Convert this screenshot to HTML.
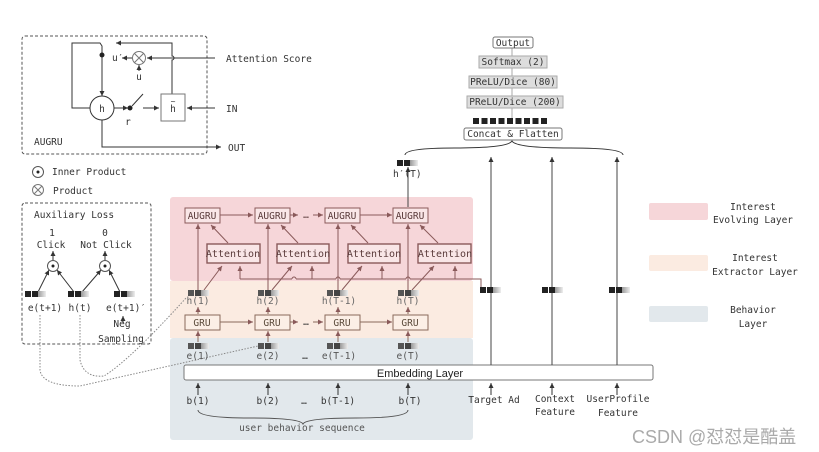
<!DOCTYPE html>
<html><head><meta charset="utf-8"><style>
html,body{margin:0;padding:0;background:#fff;}
svg{display:block;}
text{font-family:"DejaVu Sans Mono","Liberation Mono",monospace;font-size:9.5px;fill:#333;}
.c{text-anchor:middle;}
</style></head><body>
<svg width="819" height="452" viewBox="0 0 819 452" xmlns="http://www.w3.org/2000/svg">
<defs>
<marker id="a" markerWidth="6" markerHeight="6" refX="5" refY="3" orient="auto" markerUnits="userSpaceOnUse"><path d="M0,0.5 L5,3 L0,5.5z" fill="#333"/></marker>
<marker id="b" markerWidth="6" markerHeight="6" refX="5" refY="3" orient="auto" markerUnits="userSpaceOnUse"><path d="M0,0.5 L5,3 L0,5.5z" fill="#8a5a5a"/></marker>
<linearGradient id="g" x1="0" x2="1"><stop offset="0" stop-color="#999"/><stop offset="1" stop-color="#eee"/></linearGradient>
<g id="v"><rect x="0" y="0" width="6" height="6" fill="#222"/><rect x="7" y="0" width="6" height="6" fill="#222"/><rect x="13" y="0" width="8" height="6" fill="url(#g)"/></g>
<g id="vs"><rect x="0" y="0" width="6" height="6" fill="#555"/><rect x="7" y="0" width="6" height="6" fill="#444"/><rect x="13" y="0" width="8" height="6" fill="url(#g)"/></g>
</defs>

<rect x="170" y="197" width="303" height="84" rx="3" fill="#f6d6d9"/>
<rect x="170" y="281" width="303" height="57" fill="#fbebe1"/>
<rect x="170" y="338" width="303" height="102" rx="3" fill="#e2e8ec"/>

<rect x="649" y="203" width="59" height="17" rx="2" fill="#f6d6d9"/>
<rect x="649" y="255" width="59" height="16" rx="2" fill="#fbebe1"/>
<rect x="649" y="306" width="59" height="16" rx="2" fill="#e2e8ec"/>
<text x="753" y="210" class="c">Interest</text><text x="753" y="223" class="c">Evolving Layer</text>
<text x="755" y="261" class="c">Interest</text><text x="755" y="275" class="c">Extractor Layer</text>
<text x="753" y="313" class="c">Behavior</text><text x="753" y="327" class="c">Layer</text>

<rect x="22" y="36" width="185" height="118" rx="3" fill="none" stroke="#555" stroke-dasharray="3,2"/>
<g stroke="#333" fill="none" stroke-width="1">
<path d="M90,108 H72 V43 H100 L102,46 V96" marker-end="url(#a)"/>
<circle cx="102" cy="108" r="12" fill="#fff"/>
<path d="M135,58 H122" marker-end="url(#a)"/>
<circle cx="139" cy="58" r="6.5" fill="#fff" stroke="#777"/>
<path d="M134.5,53.5 L143.5,62.5 M143.5,53.5 L134.5,62.5" stroke="#777"/>
<path d="M139,71 V65" marker-end="url(#a)"/>
<path d="M215,58 H147" marker-end="url(#a)"/>
<path d="M172,94 V60 A2,2 0 0 0 172,56 V43 H116" marker-end="url(#a)"/>
<rect x="161" y="94" width="24" height="27" fill="#fff" stroke="#777"/>
<path d="M215,108 H187" marker-end="url(#a)"/>
<path d="M114,108 H128" marker-end="url(#a)"/>
<path d="M132,106 L143,94"/>
<path d="M143,108 H159" marker-end="url(#a)"/>
<path d="M102,120 V147 H221" marker-end="url(#a)"/>
</g>
<circle cx="102" cy="55" r="2.5" fill="#222"/>
<circle cx="130" cy="108" r="2.5" fill="#222"/>
<text x="102" y="112" class="c">h</text>
<text x="112" y="61">u′</text>
<text x="139" y="80" class="c">u</text>
<text x="173" y="112" class="c">h</text><text x="173" y="104" class="c" style="font-size:8px">~</text>
<text x="128" y="125" class="c">r</text>
<text x="226" y="62">Attention Score</text>
<text x="226" y="112">IN</text>
<text x="228" y="151">OUT</text>
<text x="34" y="145">AUGRU</text>

<circle cx="38" cy="172" r="5.5" fill="#fff" stroke="#555"/><circle cx="38" cy="172" r="1.5" fill="#222"/>
<text x="52" y="175">Inner Product</text>
<circle cx="38" cy="190" r="5.5" fill="#fff" stroke="#777"/>
<path d="M34,186 L42,194 M42,186 L34,194" stroke="#777"/>
<text x="53" y="194">Product</text>

<rect x="22" y="203" width="129" height="141" rx="3" fill="none" stroke="#555" stroke-dasharray="3,2"/>
<text x="34" y="218">Auxiliary Loss</text>
<text x="52" y="236" class="c">1</text><text x="51" y="248" class="c">Click</text>
<text x="105" y="236" class="c">0</text><text x="106" y="248" class="c">Not Click</text>
<g stroke="#333" fill="none">
<path d="M53,260 V251" marker-end="url(#a)"/>
<path d="M105,260 V251" marker-end="url(#a)"/>
<path d="M38,292 L49,270" marker-end="url(#a)"/>
<path d="M74,292 L57,270" marker-end="url(#a)"/>
<path d="M82,292 L101,270" marker-end="url(#a)"/>
<path d="M120,292 L109,270" marker-end="url(#a)"/>
<path d="M123,323 V316" marker-end="url(#a)"/>
</g>
<circle cx="53" cy="266" r="5.5" fill="#fff" stroke="#555"/><circle cx="53" cy="266" r="1.5" fill="#222"/>
<circle cx="105" cy="266" r="5.5" fill="#fff" stroke="#555"/><circle cx="105" cy="266" r="1.5" fill="#222"/>
<use href="#v" x="25" y="291"/><use href="#v" x="68" y="291"/><use href="#v" x="114" y="291"/>
<text x="45" y="311" class="c">e(t+1)</text><text x="80" y="311" class="c">h(t)</text><text x="126" y="311" class="c">e(t+1)′</text>
<text x="122" y="327" class="c">Neg</text><text x="121" y="342" class="c">Sampling</text>

<g stroke="#888" fill="none" stroke-dasharray="1.5,1.5">
<path d="M40,315 V370 Q42,386 80,386 L258,346"/>
<path d="M80,315 V360 Q84,378 104,376 Q130,360 186,298"/>
</g>

<g stroke="#8a5a5a" fill="none">
<path d="M240,279 H292 M296,279 H336 M340,279 H406 M410,279 H481 V289"/>
<path d="M292,279 A2,2 0 0 1 296,279 M336,279 A2,2 0 0 1 340,279 M406,279 A2,2 0 0 1 410,279"/>
<path d="M240,279 V266" marker-end="url(#b)"/>
<path d="M312,279 V266" marker-end="url(#b)"/>
<path d="M382,279 V266" marker-end="url(#b)"/>
<path d="M455,279 V266" marker-end="url(#b)"/>
<path d="M198,290 V224" marker-end="url(#b)"/>
<path d="M268,290 V224" marker-end="url(#b)"/>
<path d="M338,290 V224" marker-end="url(#b)"/>
<path d="M408,290 V224" marker-end="url(#b)"/>
<path d="M204,290 L222,266" marker-end="url(#b)"/>
<path d="M272,290 L292,266" marker-end="url(#b)"/>
<path d="M342,290 L362,266" marker-end="url(#b)"/>
<path d="M412,290 L434,266" marker-end="url(#b)"/>
<path d="M228,243 L211,225" marker-end="url(#b)"/>
<path d="M298,243 L281,225" marker-end="url(#b)"/>
<path d="M368,243 L351,225" marker-end="url(#b)"/>
<path d="M438,243 L420,225" marker-end="url(#b)"/>
<path d="M220,215 H253" marker-end="url(#b)"/>
<path d="M290,215 H298"  marker-end="url(#b)"/>
<path d="M313,215 H323" marker-end="url(#b)"/>
<path d="M360,215 H392" marker-end="url(#b)"/>
<g fill="#f9e6e7">
<rect x="185" y="208" width="35" height="15"/><rect x="255" y="208" width="35" height="15"/>
<rect x="325" y="208" width="35" height="15"/><rect x="393" y="208" width="35" height="15"/>
<rect x="207" y="244" width="53" height="19" stroke-width="1.4"/><rect x="277" y="244" width="52" height="19" stroke-width="1.4"/>
<rect x="348" y="244" width="52" height="19" stroke-width="1.4"/><rect x="418" y="244" width="53" height="19" stroke-width="1.4"/>
</g>
</g>
<text x="202" y="219" class="c" style="fill:#5a3a3a">AUGRU</text><text x="272" y="219" class="c" style="fill:#5a3a3a">AUGRU</text>
<text x="342" y="219" class="c" style="fill:#5a3a3a">AUGRU</text><text x="410" y="219" class="c" style="fill:#5a3a3a">AUGRU</text>
<text x="306" y="218" class="c" style="fill:#5a3a3a">…</text>
<text x="233" y="257" class="c" style="fill:#5a3a3a;font-size:10px">Attention</text><text x="303" y="257" class="c" style="fill:#5a3a3a;font-size:10px">Attention</text>
<text x="374" y="257" class="c" style="fill:#5a3a3a;font-size:10px">Attention</text><text x="445" y="257" class="c" style="fill:#5a3a3a;font-size:10px">Attention</text>

<use href="#vs" x="188" y="290"/><use href="#vs" x="258" y="290"/><use href="#vs" x="327" y="290"/><use href="#vs" x="398" y="290"/>
<text x="198" y="304" class="c" style="fill:#666">h(1)</text><text x="268" y="304" class="c" style="fill:#666">h(2)</text>
<text x="339" y="304" class="c" style="fill:#666">h(T-1)</text><text x="408" y="304" class="c" style="fill:#666">h(T)</text>
<g stroke="#8a6a5a" fill="none">
<path d="M198,314 V307" marker-end="url(#b)"/><path d="M268,314 V307" marker-end="url(#b)"/>
<path d="M338,314 V307" marker-end="url(#b)"/><path d="M408,314 V307" marker-end="url(#b)"/>
<path d="M220,322 H253" marker-end="url(#b)"/><path d="M290,322 H298" marker-end="url(#b)"/>
<path d="M313,322 H323" marker-end="url(#b)"/><path d="M360,322 H392" marker-end="url(#b)"/>
<path d="M198,342 V331" marker-end="url(#b)"/><path d="M268,342 V331" marker-end="url(#b)"/>
<path d="M338,342 V331" marker-end="url(#b)"/><path d="M408,342 V331" marker-end="url(#b)"/>
<g fill="#fcefe6">
<rect x="185" y="315" width="35" height="15"/><rect x="255" y="315" width="35" height="15"/>
<rect x="325" y="315" width="35" height="15"/><rect x="393" y="315" width="35" height="15"/>
</g></g>
<text x="202" y="326" class="c" style="fill:#5a4a3a">GRU</text><text x="272" y="326" class="c" style="fill:#5a4a3a">GRU</text>
<text x="342" y="326" class="c" style="fill:#5a4a3a">GRU</text><text x="410" y="326" class="c" style="fill:#5a4a3a">GRU</text>
<text x="306" y="325" class="c">…</text>

<use href="#vs" x="188" y="343"/><use href="#vs" x="258" y="343"/><use href="#vs" x="327" y="343"/><use href="#vs" x="398" y="343"/>
<text x="198" y="359" class="c" style="fill:#555">e(1)</text><text x="268" y="359" class="c" style="fill:#555">e(2)</text>
<text x="305" y="359" class="c">…</text>
<text x="339" y="359" class="c" style="fill:#555">e(T-1)</text><text x="408" y="359" class="c" style="fill:#555">e(T)</text>
<rect x="184" y="365" width="469" height="15" rx="2" fill="#fff" stroke="#777"/>
<text x="420" y="377" class="c" style="font-family:'Liberation Sans',sans-serif;font-size:11px;fill:#222">Embedding Layer</text>
<g stroke="#333" fill="none">
<path d="M198,395 V383" marker-end="url(#a)"/><path d="M268,395 V383" marker-end="url(#a)"/>
<path d="M338,395 V383" marker-end="url(#a)"/><path d="M408,395 V383" marker-end="url(#a)"/>
<path d="M491,395 V383" marker-end="url(#a)"/><path d="M552,395 V383" marker-end="url(#a)"/>
<path d="M617,395 V383" marker-end="url(#a)"/>
<path d="M198,410 Q198,418 250,418 Q300,418 303,424 Q306,418 356,418 Q408,418 408,410" stroke="#555"/>
</g>
<text x="198" y="404" class="c">b(1)</text><text x="268" y="404" class="c">b(2)</text>
<text x="304" y="404" class="c">…</text>
<text x="338" y="404" class="c">b(T-1)</text><text x="410" y="404" class="c">b(T)</text>
<text x="302" y="431" class="c" style="fill:#555">user behavior sequence</text>
<text x="494" y="403" class="c">Target Ad</text>
<text x="555" y="402" class="c">Context</text><text x="555" y="415" class="c">Feature</text>
<text x="618" y="402" class="c">UserProfile</text><text x="618" y="416" class="c">Feature</text>

<g stroke="#444" fill="none">
<path d="M491,365 V157" marker-end="url(#a)"/>
<path d="M552,365 V157" marker-end="url(#a)"/>
<path d="M617,365 V157" marker-end="url(#a)"/>
<path d="M408,207 V167" marker-end="url(#a)"/>
<path d="M405,155 Q405,148 455,148 Q508,148 512,141 Q516,148 570,148 Q623,148 623,155" stroke="#333"/>
<path d="M512,48 V118" stroke="#aaa"/>
</g>
<use href="#v" x="480" y="287"/><use href="#v" x="542" y="287"/><use href="#v" x="609" y="287"/>
<use href="#v" x="397" y="160"/>
<text x="393" y="177">h′(T)</text>

<rect x="493" y="37" width="40" height="11" rx="2" fill="#fff" stroke="#777"/>
<text x="513" y="46" class="c">Output</text>
<rect x="479" y="56" width="68" height="12" fill="#ddd" stroke="#aaa"/>
<text x="513" y="65" class="c">Softmax (2)</text>
<rect x="469" y="76" width="88" height="12" fill="#ddd" stroke="#aaa"/>
<text x="513" y="85" class="c">PReLU/Dice (80)</text>
<rect x="467" y="96" width="96" height="12" fill="#ddd" stroke="#aaa"/>
<text x="515" y="105" class="c">PReLU/Dice (200)</text>
<g fill="#222">
<rect x="473" y="118" width="6" height="6"/><rect x="481.5" y="118" width="6" height="6"/><rect x="490" y="118" width="6" height="6"/>
<rect x="498.5" y="118" width="6" height="6"/><rect x="507" y="118" width="6" height="6"/><rect x="515.5" y="118" width="6" height="6"/>
<rect x="524" y="118" width="6" height="6"/><rect x="532.5" y="118" width="6" height="6"/><rect x="541" y="118" width="6" height="6"/>
</g>
<rect x="464" y="128" width="98" height="12" rx="2" fill="#fff" stroke="#777"/>
<text x="513" y="137" class="c">Concat &amp; Flatten</text>

<text x="632" y="443" style="font-family:'Liberation Sans','Noto Sans CJK SC',sans-serif;font-size:18px;fill:#aaa">CSDN @怼怼是酷盖</text>
</svg>
</body></html>
